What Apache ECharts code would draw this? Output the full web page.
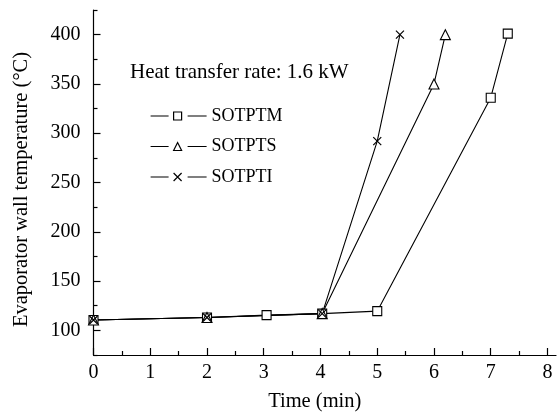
<!DOCTYPE html>
<html>
<head>
<meta charset="utf-8">
<script src="https://cdn.jsdelivr.net/npm/echarts@6/dist/echarts.min.js"></script>
<style>html,body{margin:0;padding:0;background:#fff;}#c{width:558px;height:417px;}</style>
</head>
<body>
<div id="c"></div>
<script>
// Data
const timeM = [0, 2, 3.05, 4.03, 5, 7, 7.3];
const tempM = [110.5, 113, 115.5, 117, 119.5, 336, 401];
const timeS = [0, 2, 4.03, 6, 6.2];
const tempS = [110.5, 113, 117, 350, 400];
const timeI = [0, 2, 4.03, 5, 5.4];
const tempI = [110.5, 113, 117, 292, 400];
const seriesNames = ['SOTPTM', 'SOTPTS', 'SOTPTI'];
const xTicks = [0, 1, 2, 3, 4, 5, 6, 7, 8];
const xMinorTicks = [0.5, 1.5, 2.5, 3.5, 4.5, 5.5, 6.5, 7.5];
const yTicks = [100, 150, 200, 250, 300, 350, 400];
const yMinorTicks = [75, 125, 175, 225, 275, 325, 375, 425];
const annotation = 'Heat transfer rate: 1.6 kW';

const FONT = 'Liberation Serif';
const chart = echarts.init(document.getElementById('c'));
const pairs = (xs, ys) => xs.map((x, i) => [x, ys[i]]);
const crossPath = 'path://M0,0L10,10M10,0L0,10';

// legend icons: line — marker — line (56 x 8 box)
const legendIcons = [
  'path://M0,4H18M37,4H56M23,0H31V8H23Z',
  'path://M0,4H18M37,4H56M23,8L27,0L31,8Z',
  'path://M0,4H18M37,4H56M23,0L31,8M31,0L23,8'
];

const baseSeries = (name, data, symbol, size, extra) => Object.assign({
  name, type: 'line', data, symbol, symbolSize: size,
  xAxisIndex: 0, yAxisIndex: 0,
  lineStyle: {color: '#000', width: 1.1},
  itemStyle: {color: '#fff', borderColor: '#000', borderWidth: 1.1},
  emphasis: {disabled: true}, animation: false, z: 3
}, extra || {});

chart.setOption({
  animation: false,
  grid: {left: 93.5, right: 2, top: 10, bottom: 61},
  textStyle: {fontFamily: FONT},
  xAxis: [{
    type: 'value', min: 0, max: 8.15,
    name: 'Time (min)', nameLocation: 'middle', nameGap: 36,
    nameTextStyle: {fontFamily: FONT, fontSize: 20.5, color: '#000', padding: [0, 20, 0, 0]},
    axisLine: {show: true, lineStyle: {color: '#000', width: 1.2}},
    axisTick: {show: true, inside: true, length: 7, customValues: xTicks, lineStyle: {color: '#000', width: 1.2}},
    axisLabel: {customValues: xTicks, fontFamily: FONT, fontSize: 20, color: '#000', margin: 8},
    splitLine: {show: false}
  }, {
    type: 'value', min: 0, max: 8.15, position: 'bottom',
    axisLine: {show: false},
    axisTick: {show: true, inside: true, length: 4, customValues: xMinorTicks, lineStyle: {color: '#000', width: 1.2}},
    axisLabel: {show: false},
    splitLine: {show: false}
  }],
  yAxis: [{
    type: 'value', min: 75, max: 425,
    name: 'Evaporator wall temperature (°C)', nameLocation: 'middle', nameGap: 61,
    nameTextStyle: {fontFamily: FONT, fontSize: 20.5, color: '#000', padding: [0, 14, 0, 0]},
    axisLine: {show: true, lineStyle: {color: '#000', width: 1.2}},
    axisTick: {show: true, inside: true, length: 7, customValues: yTicks, lineStyle: {color: '#000', width: 1.2}},
    axisLabel: {customValues: yTicks, fontFamily: FONT, fontSize: 20, color: '#000', margin: 13},
    splitLine: {show: false}
  }, {
    type: 'value', min: 75, max: 425, position: 'left',
    axisLine: {show: false},
    axisTick: {show: true, inside: true, length: 4, customValues: yMinorTicks, lineStyle: {color: '#000', width: 1.2}},
    axisLabel: {show: false},
    splitLine: {show: false}
  }],
  legend: {
    orient: 'vertical', left: 145, top: 102,
    itemWidth: 56, itemHeight: 8, itemGap: 12.5,
    itemStyle: {color: '#fff', borderColor: '#000', borderWidth: 1.2},
    textStyle: {fontFamily: FONT, fontSize: 18, color: '#000'},
    data: seriesNames.map((n, i) => ({name: n, icon: legendIcons[i]}))
  },
  graphic: [{
    type: 'text', left: 130, top: 62,
    style: {text: annotation, font: '21px "Liberation Serif"', fill: '#000'}
  }],
  series: [
    baseSeries(seriesNames[0], pairs(timeM, tempM), 'rect', 9),
    baseSeries(seriesNames[1], pairs(timeS, tempS), 'triangle', 10),
    baseSeries(seriesNames[2], pairs(timeI, tempI), crossPath, 8, {itemStyle: {color: 'none', borderColor: '#000', borderWidth: 1.2}})
  ]
});
</script>
</body>
</html>
